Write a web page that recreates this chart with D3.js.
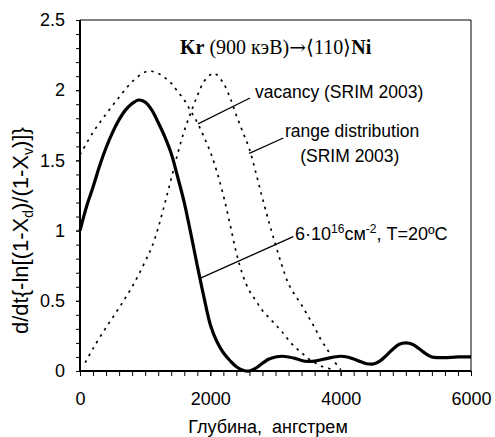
<!DOCTYPE html>
<html>
<head>
<meta charset="utf-8">
<script src="https://cdn.jsdelivr.net/npm/d3@7/dist/d3.min.js"></script>
<style>
  body { margin: 0; background: #fff; }
  svg { display: block; font-family: "Liberation Sans", Arial, sans-serif; }
</style>
</head>
<body>
<svg id="chart" width="495" height="437"></svg>
<script>
// ── Data ──
const solidDepth = [0, 100, 200, 300, 400, 500, 600, 700, 800, 900, 1000, 1100, 1200, 1300, 1400, 1500, 1600, 1700, 1800, 1900, 2000, 2100, 2200, 2300, 2400, 2500, 2600, 2700, 2800, 2900, 3000, 3100, 3200, 3300, 3400, 3500, 3600, 3700, 3800, 3900, 4000, 4100, 4200, 4300, 4400, 4500, 4600, 4700, 4800, 4900, 5000, 5100, 5200, 5300, 5400, 5500, 5600, 5800, 6000];
const solidValue = [1.0, 1.17, 1.31, 1.46, 1.59, 1.70, 1.79, 1.86, 1.905, 1.93, 1.915, 1.86, 1.77, 1.67, 1.55, 1.38, 1.20, 0.98, 0.75, 0.53, 0.33, 0.21, 0.13, 0.075, 0.03, 0.006, 0.0, 0.02, 0.055, 0.085, 0.10, 0.105, 0.10, 0.09, 0.075, 0.068, 0.07, 0.08, 0.09, 0.10, 0.105, 0.10, 0.085, 0.068, 0.052, 0.05, 0.07, 0.11, 0.155, 0.19, 0.20, 0.19, 0.16, 0.125, 0.10, 0.095, 0.095, 0.10, 0.10];

const vacancyDepth = [0, 200, 400, 600, 800, 1000, 1100, 1200, 1300, 1400, 1500, 1600, 1700, 1800, 1900, 2000, 2100, 2200, 2300, 2400, 2500, 2600, 2700, 2800, 2900, 3000, 3100, 3200, 3300, 3400, 3500, 3600, 3700, 3800, 3900];
const vacancyValue = [1.54, 1.70, 1.83, 1.95, 2.06, 2.13, 2.135, 2.12, 2.09, 2.05, 1.99, 1.93, 1.85, 1.77, 1.67, 1.56, 1.42, 1.25, 1.05, 0.84, 0.68, 0.57, 0.50, 0.43, 0.38, 0.33, 0.28, 0.22, 0.17, 0.13, 0.09, 0.06, 0.035, 0.02, 0.01];

const rangeDepth = [80, 200, 400, 600, 800, 1000, 1100, 1200, 1300, 1400, 1500, 1600, 1700, 1800, 1900, 2000, 2050, 2100, 2200, 2300, 2400, 2500, 2600, 2700, 2800, 2900, 3000, 3100, 3200, 3300, 3400, 3500, 3600, 3700, 3800, 3900, 4000];
const rangeValue = [0.06, 0.16, 0.31, 0.45, 0.60, 0.78, 0.88, 1.02, 1.19, 1.37, 1.55, 1.71, 1.84, 1.96, 2.06, 2.11, 2.12, 2.11, 2.05, 1.95, 1.82, 1.70, 1.58, 1.41, 1.23, 1.06, 0.90, 0.75, 0.62, 0.54, 0.47, 0.39, 0.31, 0.22, 0.15, 0.07, 0.01];

const xTickLabels = [0, 2000, 4000, 6000];
const yTickLabels = [0, 0.5, 1, 1.5, 2, 2.5];

// leader lines: [from depth, from value, to depth, to value]
const leaders = [
  [1811, 1.76, 2609, 1.945],
  [2597, 1.55, 3120, 1.66],
  [1841, 0.66, 3273, 0.957]
];

// ── Layout ──
const width = 495, height = 437;
const margin = { top: 20, right: 24, bottom: 66, left: 80 };

const svg = d3.select("#chart");
const x = d3.scaleLinear().domain([0, 6000]).range([margin.left, width - margin.right]);
const y = d3.scaleLinear().domain([0, 2.5]).range([height - margin.bottom, margin.top]);

// frame (top + right)
svg.append("path")
  .attr("d", `M${x(0)},${y(2.5)}H${x(6000)}V${y(0)}`)
  .attr("fill", "none").attr("stroke", "#000").attr("stroke-width", 1);

// ── Axes ──
const yMinor = d3.axisLeft(y).tickValues(d3.range(0, 2.51, 0.1)).tickSize(4).tickFormat("");
const yMajor = d3.axisLeft(y).tickValues(yTickLabels).tickSize(4).tickPadding(11).tickFormat(d3.format("~g"));
const xMinor = d3.axisBottom(x).tickValues(d3.range(0, 6001, 200)).tickSize(5).tickFormat("");
const xMajor = d3.axisBottom(x).tickValues(xTickLabels).tickSize(5).tickPadding(16).tickFormat(d3.format("d"));

function styleAxis(g) {
  g.select(".domain").remove();
  g.selectAll("line").attr("stroke", "#000").attr("stroke-width", 1);
  g.selectAll("text").attr("fill", "#000").style("font-size", "18px")
    .style("font-family", "'Liberation Sans', Arial, sans-serif");
}

svg.append("g").attr("transform", `translate(${x(0)},0)`).call(yMinor).call(styleAxis);
svg.append("g").attr("transform", `translate(${x(0)},0)`).call(yMajor).call(styleAxis);
svg.append("g").attr("transform", `translate(0,${y(0)})`).call(xMinor).call(styleAxis);
svg.append("g").attr("transform", `translate(0,${y(0)})`).call(xMajor).call(styleAxis);

// axis lines
svg.append("path")
  .attr("d", `M${x(0)},${y(2.5)}V${y(0)}H${x(6000)}`)
  .attr("fill", "none").attr("stroke", "#000").attr("stroke-width", 2);

// ── Curves ──
const line = d3.line().x(d => x(d[0])).y(d => y(d[1])).curve(d3.curveCatmullRom.alpha(0.5));

svg.append("path")
  .datum(d3.zip(vacancyDepth, vacancyValue))
  .attr("d", line)
  .attr("fill", "none").attr("stroke", "#000").attr("stroke-width", 1.7)
  .attr("stroke-dasharray", "2.5,5");

svg.append("path")
  .datum(d3.zip(rangeDepth, rangeValue))
  .attr("d", line)
  .attr("fill", "none").attr("stroke", "#000").attr("stroke-width", 1.7)
  .attr("stroke-dasharray", "2.5,5");

svg.append("path")
  .datum(d3.zip(solidDepth, solidValue))
  .attr("d", line)
  .attr("fill", "none").attr("stroke", "#000").attr("stroke-width", 3.2)
  .attr("stroke-linejoin", "round");

// ── Leaders ──
svg.selectAll(".leader")
  .data(leaders)
  .join("line")
  .attr("class", "leader")
  .attr("x1", d => x(d[0])).attr("y1", d => y(d[1]))
  .attr("x2", d => x(d[2])).attr("y2", d => y(d[3]))
  .attr("stroke", "#000").attr("stroke-width", 1.2);

// ── Annotations ──
const ann = svg.append("g").style("font-size", "17.5px").attr("fill", "#000");

ann.append("text").attr("x", x(2685)).attr("y", y(1.944)).text("vacancy (SRIM 2003)");
ann.append("text").attr("x", x(3146)).attr("y", y(1.67)).text("range distribution");
ann.append("text").attr("x", x(4140)).attr("y", y(1.492)).attr("text-anchor", "middle").text("(SRIM 2003)");

const dose = ann.append("text").attr("x", x(3299)).attr("y", y(0.933)).style("font-size", "18px");
dose.append("tspan").text("6·10");
dose.append("tspan").attr("dy", -7).style("font-size", "12px").text("16");
dose.append("tspan").attr("dy", 7).text("см");
dose.append("tspan").attr("dy", -7).style("font-size", "12px").text("-2");
dose.append("tspan").attr("dy", 7).text(", T=20ºC");

// title
const title = svg.append("text")
  .attr("x", x(1535)).attr("y", y(2.258))
  .style("font-family", "'Liberation Serif', 'Times New Roman', serif")
  .style("font-size", "20px").attr("fill", "#000");
title.append("tspan").attr("font-weight", "bold").text("Kr");
title.append("tspan").text(" (900 кэВ)");
title.append("tspan").style("font-family", "'DejaVu Serif', serif").style("font-size", "20px").text("→");
title.append("tspan").text("⟨110⟩");
title.append("tspan").attr("font-weight", "bold").text("Ni");

// x label
svg.append("text")
  .attr("x", 268).attr("y", 433)
  .attr("text-anchor", "middle")
  .style("font-size", "18px").attr("fill", "#000")
  .attr("xml:space", "preserve")
  .text("Глубина,  ангстрем");

// y label
const yl = svg.append("text")
  .attr("transform", `translate(28,${y(1.0)}) rotate(-90)`)
  .attr("text-anchor", "middle")
  .style("font-size", "22px").attr("fill", "#000");
yl.append("tspan").text("d/dt{-ln[(1-X");
yl.append("tspan").attr("dy", 5).style("font-size", "14px").text("d");
yl.append("tspan").attr("dy", -5).text(")/(1-X");
yl.append("tspan").attr("dy", 5).style("font-size", "14px").text("v");
yl.append("tspan").attr("dy", -5).text(")]}");
</script>
</body>
</html>
